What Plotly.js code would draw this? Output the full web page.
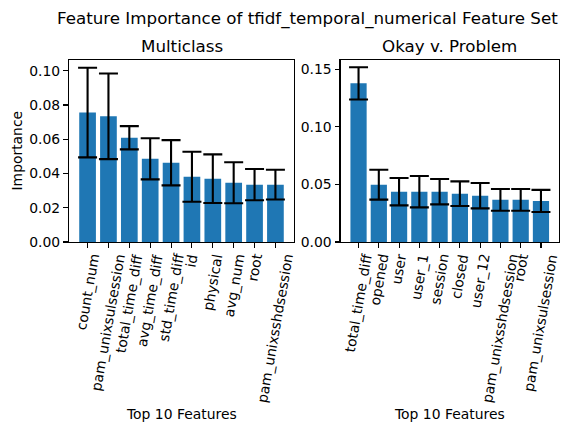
<!DOCTYPE html>
<html>
<head>
<meta charset="utf-8">
<script src="https://cdn.plot.ly/plotly-3.0.1.min.js"></script>
<style>html,body{margin:0;padding:0;background:#fff;}#chart{width:563px;height:425px;}</style>
</head>
<body>
<div id="chart"></div>
<script>
const multiFeatures = ["count_num","pam_unixsulsession","total_time_diff","avg_time_diff","std_time_diff","id","physical","avg_num","root","pam_unixsshdsession"];
const multiValues = [0.0756,0.0734,0.0609,0.0486,0.0463,0.0381,0.0370,0.0346,0.0335,0.0335];
const multiErrors = [0.0262,0.0250,0.0068,0.0120,0.0132,0.0146,0.0142,0.0120,0.0091,0.0087];

const binFeatures = ["total_time_diff","opened","user","user_1","session","closed","user_12","pam_unixsshdsession","root","pam_unixsulsession"];
const binValues = [0.1378,0.0498,0.0437,0.0437,0.0437,0.0420,0.0402,0.0366,0.0366,0.0357];
const binErrors = [0.0140,0.0130,0.0119,0.0136,0.0110,0.0107,0.0110,0.0095,0.0095,0.0096];

const BLUE = '#1f77b4';
const FONT = 'DejaVu Sans, sans-serif';

function barTrace(x, y, e, xa, ya) {
  return {
    type: 'bar', x: x, y: y, xaxis: xa, yaxis: ya,
    marker: {color: BLUE, line: {width: 0}},
    error_y: {type: 'data', array: e, visible: true, color: '#000', thickness: 2.1, width: 9.5},
    hoverinfo: 'none'
  };
}

const data = [
  barTrace(multiFeatures, multiValues, multiErrors, 'x', 'y'),
  barTrace(binFeatures, binValues, binErrors, 'x2', 'y2')
];

const W = 563, H = 425;
function px(x) { return x / W; }
function py(y) { return (H - y) / H; }

const axisCommon = {
  showgrid: false, zeroline: false, showline: true, linecolor: '#000', linewidth: 1.1,
  mirror: true, ticks: 'outside', ticklen: 4.9, tickwidth: 1.1, tickcolor: '#000',
  tickfont: {family: FONT, size: 13.9, color: '#000'}
};

// Rotated category labels, centred on their ticks (matplotlib style)
function tickLabels(cats, xref) {
  return cats.map(c => ({
    text: c, xref: xref, yref: 'paper', x: c, y: py(251.5),
    xanchor: 'center', yanchor: 'top', textangle: -80, showarrow: false,
    borderpad: 0, font: {family: FONT, size: 13.9, color: '#000'}
  }));
}

const layout = {
  width: W, height: H,
  margin: {l: 0, r: 0, t: 0, b: 0},
  paper_bgcolor: '#fff', plot_bgcolor: '#fff',
  showlegend: false, bargap: 0.2,
  font: {family: FONT, color: '#000'},
  xaxis: Object.assign({}, axisCommon, {domain: [px(69), px(294)], anchor: 'y', type: 'category', range: [-0.89, 9.89], showticklabels: false, fixedrange: true}),
  yaxis: Object.assign({}, axisCommon, {domain: [py(242), py(60)], anchor: 'x', range: [0, 0.1063], dtick: 0.02, tick0: 0, tickformat: '.2f', fixedrange: true}),
  xaxis2: Object.assign({}, axisCommon, {domain: [px(340.5), px(559)], anchor: 'y2', type: 'category', range: [-0.89, 9.89], showticklabels: false, fixedrange: true}),
  yaxis2: Object.assign({}, axisCommon, {domain: [py(242), py(60)], anchor: 'x2', range: [0, 0.1581], dtick: 0.05, tick0: 0, tickformat: '.2f', fixedrange: true}),
  annotations: [
    {text: 'Feature Importance of tfidf_temporal_numerical Feature Set', xref: 'paper', yref: 'paper', x: px(307.7), y: py(18), xanchor: 'center', yanchor: 'middle', showarrow: false, font: {family: FONT, size: 16.7, color: '#000'}},
    {text: 'Multiclass', xref: 'paper', yref: 'paper', x: px(181.5), y: py(46), xanchor: 'center', yanchor: 'middle', showarrow: false, font: {family: FONT, size: 16.7, color: '#000'}},
    {text: 'Okay v. Problem', xref: 'paper', yref: 'paper', x: px(449.8), y: py(46), xanchor: 'center', yanchor: 'middle', showarrow: false, font: {family: FONT, size: 16.7, color: '#000'}},
    {text: 'Top 10 Features', xref: 'paper', yref: 'paper', x: px(181.5), y: py(414), xanchor: 'center', yanchor: 'middle', showarrow: false, font: {family: FONT, size: 13.9, color: '#000'}},
    {text: 'Top 10 Features', xref: 'paper', yref: 'paper', x: px(449.8), y: py(414), xanchor: 'center', yanchor: 'middle', showarrow: false, font: {family: FONT, size: 13.9, color: '#000'}},
    {text: 'Importance', xref: 'paper', yref: 'paper', x: px(16.5), y: py(151), xanchor: 'center', yanchor: 'middle', textangle: -90, showarrow: false, font: {family: FONT, size: 13.9, color: '#000'}}
  ].concat(tickLabels(multiFeatures, 'x'), tickLabels(binFeatures, 'x2'))
};

Plotly.newPlot('chart', data, layout, {displayModeBar: false, staticPlot: true});
</script>
</body>
</html>
